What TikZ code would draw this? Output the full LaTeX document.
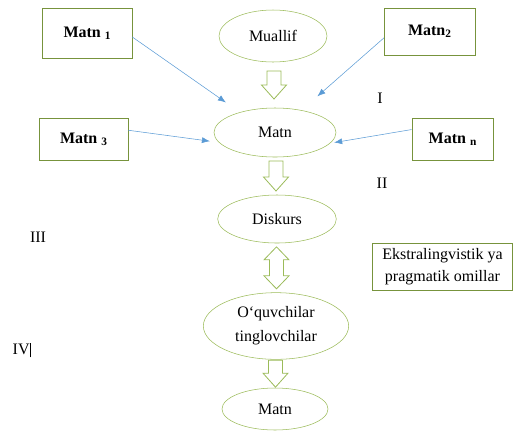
\documentclass[tikz,border=0pt]{standalone}
\usepackage{fontspec}
\setmainfont{Liberation Serif}
\usetikzlibrary{calc,arrows.meta,shapes.geometric}

\definecolor{ellgreen}{HTML}{9BBB59}
\definecolor{boxgreen}{HTML}{77933C}
\definecolor{arblue}{HTML}{5B9BD5}

% small lowered index after "Matn"
\newcommand\matnsub[1]{{\fontsize{8.5}{10}\selectfont\raisebox{-1.5pt}{#1}}}

% hollow block arrows between two nodes (half length in px)
\newcommand\blkdown[3]{%
  \draw[blkar, shift={($(#1.south)!.5!(#2.north)$)}]
    (-7,-#3) -- (7,-#3) -- (7,#3-14) -- (12.5,#3-14) -- (0,#3)
    -- (-12.5,#3-14) -- (-7,#3-14) -- cycle;}
\newcommand\blkboth[3]{%
  \draw[blkar, shift={($(#1.south)!.5!(#2.north)$)}]
    (0,-#3) -- (12.5,-#3+13) -- (7,-#3+13) -- (7,#3-13) -- (12.5,#3-13)
    -- (0,#3) -- (-12.5,#3-13) -- (-7,#3-13) -- (-7,-#3+13)
    -- (-12.5,-#3+13) -- cycle;}

\begin{document}
\begin{tikzpicture}[
  x=0.75pt, y=-0.75pt, font=\fontsize{12}{14}\selectfont,
  ell/.style   = {draw=ellgreen, ellipse, inner sep=0pt, align=center},
  box/.style   = {draw=boxgreen, rectangle, inner sep=0pt,
                  font=\fontsize{12}{14}\selectfont\bfseries},
  ext/.style   = {box, font=\fontsize{12}{16.5}\selectfont, align=center},
  ar/.style    = {-{Latex[length=6pt,width=4.5pt]}, draw=arblue, thin},
  blkar/.style = {draw=ellgreen, fill=white, line width=0.6pt},
  lbl/.style   = {inner sep=1pt},
]
  \useasboundingbox (0,0) rectangle (515,430);

  % ---- top row ----------------------------------------------
  \node[box, minimum width=67.5pt, minimum height=37.5pt] (m1) at ( 87,  33) {Matn \matnsub{1}};
  \node[ell, minimum width=81pt,   minimum height=39pt]   (mu) at (273,  36) {Muallif};
  \node[box, minimum width=68pt,   minimum height=35pt]   (m2) at (429.5,31.5) {Matn\matnsub{2}};

  % ---- second row -------------------------------------------
  \node[box, minimum width=67pt,   minimum height=31.5pt] (m3) at ( 83.5,139) {Matn \matnsub{3}};
  \node[ell, minimum width=91.5pt, minimum height=36.75pt] (mt) at (275, 132.5) {Matn};
  \node[box, minimum width=61pt,   minimum height=31.5pt] (mn) at (452.5,139) {Matn \matnsub{n}};

  % ---- lower chain ------------------------------------------
  \node[ell, minimum width=89pt,   minimum height=36pt]   (dk) at (277, 219) {Diskurs};
  \node[ext, minimum width=105pt,  minimum height=35pt]   (ek) at (442.5,266.5) {Ekstralingvistik ya\\pragmatik omillar};
  \node[ell, minimum width=109pt,  minimum height=50pt,
        font=\fontsize{12}{18}\selectfont]                (oq) at (276, 326) {O‘quvchilar\\tinglovchilar};
  \node[ell, minimum width=79.5pt, minimum height=31.5pt] (mb) at (275, 409) {Matn};

  % ---- stage numbers ----------------------------------------
  \node[lbl] (s1) at (380,  98) {I};
  \node[lbl] (s2) at (382, 183) {II};
  \node[lbl] (s3) at ( 38, 237) {III};
  \node[lbl] (s4) at ( 22, 350) {IV\rule[-2pt]{1.3pt}{11pt}};

  % ---- thin arrows into the text ----------------------------
  \draw[ar, shorten >=12.75pt] (m1.355) -- (mt.150);
  \draw[ar, shorten >=15.75pt] (m2.188) -- (mt.40);
  \draw[ar, shorten >=6.75pt]  (m3.11)  -- (mt.190);
  \draw[ar, shorten >=3pt]     (mn.167) -- (mt.349);

  % ---- block arrows -----------------------------------------
  \blkdown{mu}{mt}{14}
  \blkdown{mt}{dk}{15}
  \blkboth{dk}{oq}{21}
  \blkdown{oq}{mb}{13.5}

\end{tikzpicture}
\end{document}
